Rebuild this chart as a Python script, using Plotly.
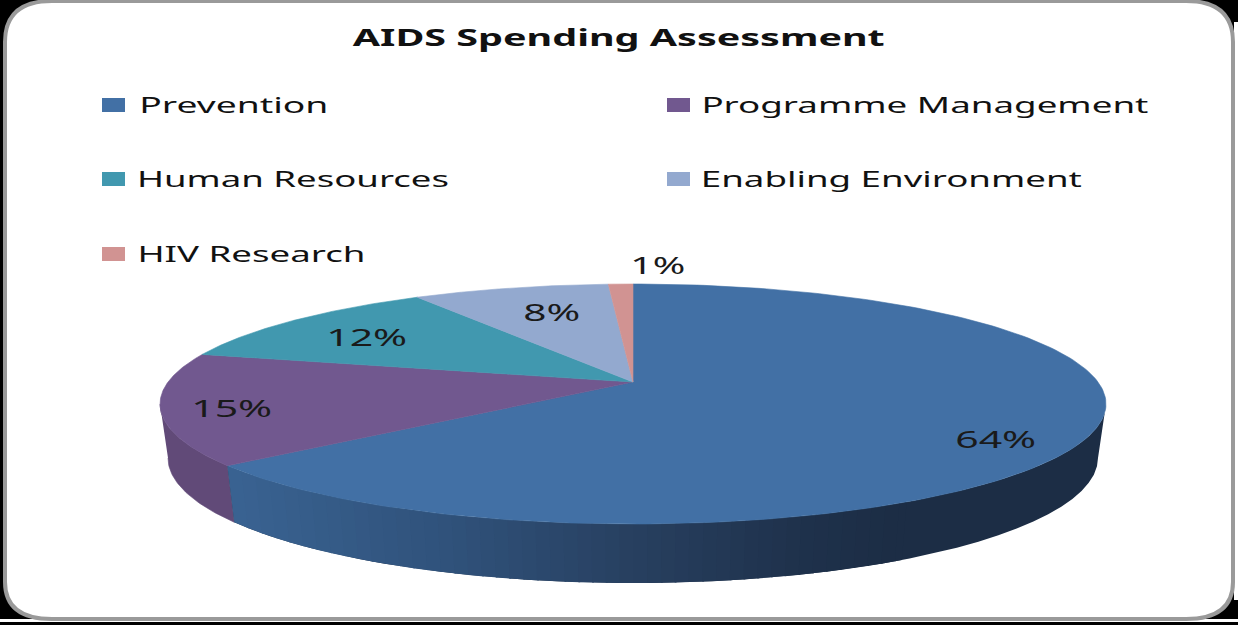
import json
import numpy as np
import plotly.graph_objects as go

# ---- data ----
categories = ["Prevention", "Programme Management", "Human Resources", "Enabling Environment", "HIV Research"]
shares = [64, 15, 12, 8, 1]
title_text = "AIDS Spending Assessment"

# ---- style ----
colors = ["#4270A5", "#71588F", "#4198AF", "#93A9CF", "#D19392"]
FONT = "Noto Sans"
CX, CY, RX, RY = 633.0, 404.0, 473.0, 120.0      # top ellipse
BX, BY, BRX, BRY = 633.0, 458.0, 465.0, 125.0    # bottom ellipse
TILT = 0.183                                     # perspective shift of the apex
legend_pos = [(102, 105, 233.5), (667, 105, 924.5), (102, 179, 293), (667, 179, 891), (102, 254, 251)]
label_pos = [(995, 438), (231, 407), (366, 336), (552, 311), (658, 264)]
title_pos = (619, 36)
widths = {title_text: 532, "Prevention": 189, "Programme Management": 447, "Human Resources": 312,
          "Enabling Environment": 381, "HIV Research": 228, "64%": 81, "15%": 81, "12%": 81, "8%": 57, "1%": 55}
wall_stops = [(230, (0x3A, 0x63, 0x92)), (450, (0x30, 0x52, 0x7B)), (633, (0x28, 0x40, 0x60)),
              (800, (0x1F, 0x32, 0x4C)), (900, (0x1C, 0x2D, 0x45)), (1110, (0x1C, 0x2D, 0x45))]


def unit(theta):
    """Clockwise angle from 12 o'clock to a point of the perspective-tilted unit ellipse."""
    s, c = np.sin(theta), np.cos(theta)
    d = 1 + TILT * c
    return s * np.sqrt(1 - TILT ** 2) / d, (c + TILT) / d


def top(u, v):
    return CX + RX * np.asarray(u), CY - RY * np.asarray(v)


def bottom(u, v):
    return BX + BRX * np.asarray(u), BY - BRY * np.asarray(v)


fig = go.Figure()


def poly(x, y, color, lw=0.6):
    fig.add_trace(go.Scatter(x=list(x), y=list(y), mode="lines", fill="toself", fillcolor=color,
                             line=dict(width=lw, color=color), hoverinfo="skip", showlegend=False))


def wall(a, b, color, lw=0.6):
    p = np.linspace(a, b, 40)
    xt, yt = top(np.cos(p), np.sin(p))
    xb, yb = bottom(np.cos(p), np.sin(p))
    poly(np.r_[xt, xb[::-1]], np.r_[yt, yb[::-1]], color, lw)


total = sum(shares)
edges = np.cumsum([0] + shares) / total * 2 * np.pi

# wall: from the left extreme of the ellipse, round the front, to the right extreme
u0, v0 = unit(edges[1])
phi_split = np.arctan2(v0, u0) % (2 * np.pi)
wall(np.pi, phi_split, "#614A78")

# dark far part first, then lighter bands on top, each band reaching to the right extreme
sx = [s[0] for s in wall_stops]
xs = np.arange(CX + RX * np.cos(phi_split), 905, 14.0)
wall(phi_split, 2 * np.pi, "rgb(28,45,69)", 0)
for x0 in xs[::-1]:
    a = 2 * np.pi - np.arccos(np.clip((x0 - CX) / RX, -1, 1))
    pass
cuts = [2 * np.pi - np.arccos(np.clip((x - CX) / RX, -1, 1)) for x in xs]
cuts.append(2 * np.pi - np.arccos((905 - CX) / RX))
for i in range(len(cuts) - 1):
    mid = (xs[i] + 7)
    rgb = [int(np.interp(mid, sx, [s[1][k] for s in wall_stops])) for k in range(3)]
    wall(cuts[i], cuts[i + 1] + 0.004, "rgb(%d,%d,%d)" % tuple(rgb), 0)

# top face
for i, c in enumerate(colors):
    t = np.linspace(edges[i], edges[i + 1], 200)
    u, v = unit(t)
    x, y = top(np.r_[0, u, 0], np.r_[TILT, v, TILT])
    poly(x, y, c)

# texts
ann = [dict(x=title_pos[0], y=title_pos[1], text=f"<b>{title_text}</b>", font=dict(size=24, color="#111111", family=FONT))]
for (sx0, sy, tx), name in zip(legend_pos, categories):
    ann.append(dict(x=tx, y=sy - 1, text=name, font=dict(size=22, color="#111111", family=FONT)))
for (lx, ly), v in zip(label_pos, shares):
    ann.append(dict(x=lx, y=ly, text=f"{v}%", font=dict(size=24, color="#1a1a1a", family=FONT)))
for a in ann:
    a.update(xref="x", yref="y", showarrow=False, xanchor="center", yanchor="middle")

# frame and legend swatches
shapes = [
    dict(type="rect", x0=0, x1=1238, y0=0, y1=625, fillcolor="black", line_width=0, layer="below"),
    dict(type="rect", x0=0, x1=1238, y0=619, y1=622, fillcolor="white", line_width=0, layer="below"),
    dict(type="rect", x0=1234, x1=1238, y0=22, y1=600, fillcolor="white", line_width=0, layer="below"),
    dict(type="path", layer="below", fillcolor="white", line=dict(color="#9a9a9a", width=4),
         path="M 5 42 Q 5 1 52 1 L 1186 1 Q 1233 1 1233 42 L 1233 582 Q 1233 619 1186 619 L 52 619 Q 5 619 5 582 Z"),
]
for (sx0, sy, tx), c in zip(legend_pos, colors):
    shapes.append(dict(type="rect", x0=sx0, x1=sx0 + 23, y0=sy - 7, y1=sy + 7, fillcolor=c, line_width=0, layer="above"))

fig.update_layout(
    width=1238, height=625, margin=dict(l=0, r=0, t=0, b=0), paper_bgcolor="white", plot_bgcolor="rgba(0,0,0,0)",
    xaxis=dict(range=[0, 1238], visible=False, fixedrange=True),
    yaxis=dict(range=[625, 0], visible=False, fixedrange=True),
    annotations=ann, shapes=shapes, showlegend=False,
)

stretch = """
document.body.style.margin = '0';
var W = %s;
document.querySelectorAll('.annotation-text').forEach(function (t) {
  var w = W[t.textContent];
  if (w) { t.setAttribute('textLength', w); t.setAttribute('lengthAdjust', 'spacingAndGlyphs'); }
});
""" % json.dumps(widths)

fig.write_html("out.html", post_script=stretch, config=dict(displayModeBar=False))
